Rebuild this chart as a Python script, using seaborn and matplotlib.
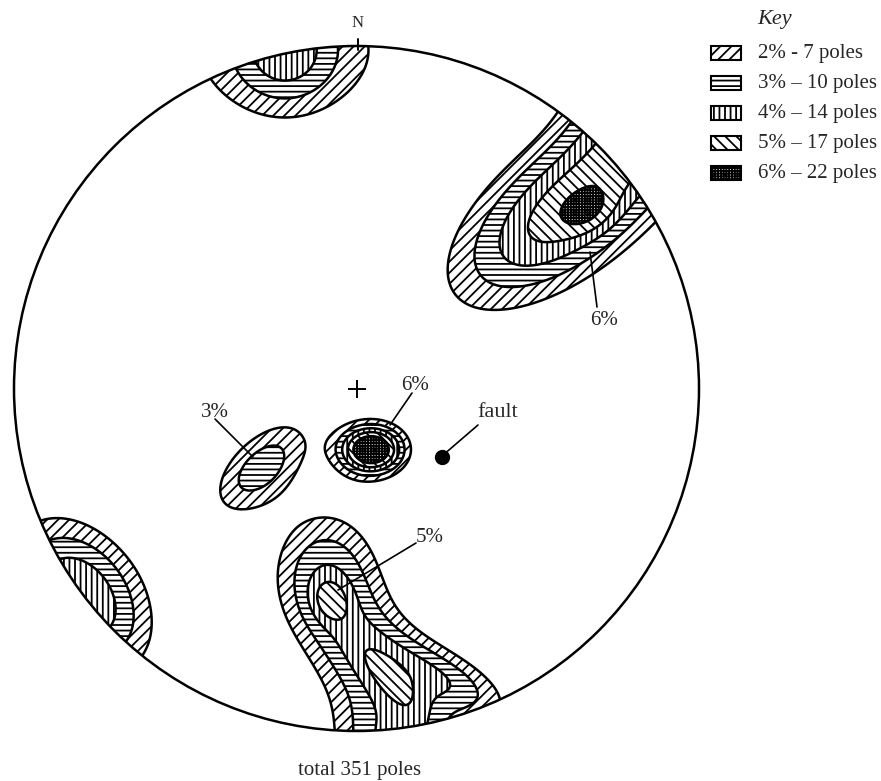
import numpy as np
import matplotlib
matplotlib.use("Agg")
import matplotlib.pyplot as plt
import seaborn as sns
from matplotlib.patches import Circle, Rectangle, PathPatch

# contour levels (% of poles) and the key
levels = [2, 3, 4, 5, 6]
pole_counts = [7, 10, 14, 17, 22]
dashes = ['-', '–', '–', '–', '–']
hatches = ['///', '---', '|||', '\\\\\\', '++++++']

# pole concentrations read off the net (unit-circle coords):
# centre, peak value (%), spread along / across the long axis, axis angle (deg)
conc_x = [-0.209, -0.209, 0.620, 0.676, 0.828, -0.280, 0.044,
          -0.092, -0.077, 0.025, 0.112, 0.127, 0.273, -0.806]
conc_y = [0.988, 0.988, 0.531, 0.515, 0.857, -0.229, -0.178,
          -0.530, -0.618, -0.778, -0.872, -1.085, -0.851, -0.607]
conc_peak = [2.6, 2.3, 5.6, 1.1, 3.0, 3.45, 7.7,
             3.3, 1.6, 3.0, 1.2, 4.0, 2.8, 5.0]
conc_sa = [0.300, 0.102, 0.292, 0.058, 0.15, 0.137, 0.0695,
           0.146, 0.046, 0.16, 0.102, 0.146, 0.161, 0.187]
conc_sp = [0.190, 0.111, 0.14, 0.042, 0.15, 0.072, 0.053,
           0.123, 0.038, 0.117, 0.038, 0.146, 0.064, 0.131]
conc_ang = [0, 0, 37.7, 25, 0, 44, 0,
            90, -70, -60, -47, 0, -26.6, -53]

total_poles = 351

sns.set_style("white")
plt.rcParams['font.family'] = ['Liberation Serif', 'DejaVu Serif']
plt.rcParams['hatch.linewidth'] = 1.3
plt.rcParams['hatch.color'] = 'black'


def net(px, py):
    # picture pixels -> net coords
    return (px - 356.5) / 342.5, (388.5 - py) / 342.5


gx = np.linspace(-1.05, 1.05, 500)
X, Y = np.meshgrid(gx, gx)
Z = np.zeros_like(X)
for cx, cy, a, sa, sp, ang in zip(conc_x, conc_y, conc_peak, conc_sa, conc_sp, conc_ang):
    t = np.radians(ang)
    dx, dy = X - cx, Y - cy
    u = dx * np.cos(t) + dy * np.sin(t)
    v = -dx * np.sin(t) + dy * np.cos(t)
    Z += a * np.exp(-(u ** 2 / (2 * sa ** 2) + v ** 2 / (2 * sp ** 2)))

fig = plt.figure(figsize=(8.81, 7.81), dpi=100)
ax = fig.add_axes([0, 0, 1, 1])
x0, y1 = net(0, 0)
x1, y0 = net(881, 781)
ax.set_xlim(x0, x1)
ax.set_ylim(y0, y1)
ax.axis('off')

rim = Circle((0, 0), 1, transform=ax.transData)
cf = ax.contourf(X, Y, Z, levels=levels + [50], colors='none')
# hatch each band as its own patch so the hatch is drawn in black
for path, h in zip(cf.get_paths(), hatches):
    pp = PathPatch(path, facecolor='none', edgecolor='k', lw=0, hatch=h)
    ax.add_patch(pp)
    pp.set_clip_path(rim)
cf.remove()
cl = ax.contour(X, Y, Z, levels=levels, colors='k', linewidths=1.8)
cl.set_clip_path(rim)
ax.add_patch(Circle((0, 0), 1, fill=False, ec='k', lw=1.8))

# centre, north
ax.plot([0], [0], marker='+', ms=13, mew=1.4, color='k')
ax.plot(*zip(net(358, 39), net(358, 50)), color='k', lw=1.4)
ax.text(*net(358, 23), 'N', ha='center', va='center', fontsize=12)


# labels with leaders
def label(txt, tx, ty, p1, p2, size=15):
    ax.text(*net(tx, ty), txt, ha='center', va='center', fontsize=size)
    ax.plot(*zip(net(*p1), net(*p2)), color='k', lw=1.2)


label('6%', 415, 385, (412, 393), (390, 425))
label('3%', 215, 412, (215, 419), (253, 457))
label('6%', 604, 320, (597, 307), (590, 252))
label('5%', 430, 537, (416, 543), (338, 590))
label('fault', 498, 412, (478, 425), (442, 456), size=16)
ax.plot(*net(442, 457), marker='o', ms=10, color='k')

ax.text(*net(360, 770), f'total {total_poles} poles', ha='center', va='center', fontsize=15)

# key
ax.text(*net(775, 19), 'Key', ha='center', va='center', fontsize=16, style='italic')
for i, (lev, n, d, h) in enumerate(zip(levels, pole_counts, dashes, hatches)):
    yc = 53 + 30 * i
    bx, by = net(711, yc + 7)
    ax.add_patch(Rectangle((bx, by), 30 / 342.5, 14 / 342.5, fill=False,
                           hatch=h, ec='k', lw=1.5))
    ax.text(*net(758, yc), f'{lev}% {d} {n} poles', ha='left', va='center', fontsize=15)

fig.savefig('out.png', dpi=100)
